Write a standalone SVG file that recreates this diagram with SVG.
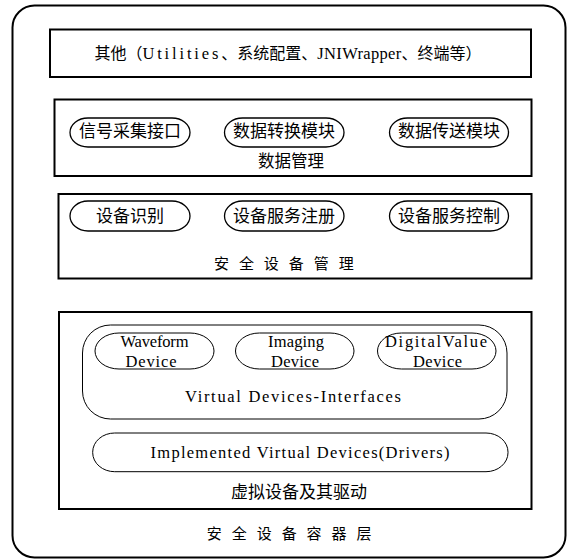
<svg xmlns="http://www.w3.org/2000/svg" width="568" height="560" viewBox="0 0 568 560">
<style>
.frame{fill:#fff;stroke:#000;stroke-width:2}
.box{fill:#fff;stroke:#000;stroke-width:2}
.pill{fill:#fff;stroke:#000;stroke-width:1.3}
.thin{fill:none;stroke:#000;stroke-width:1}
.cjk{font-family:"Noto Sans CJK SC","Noto Sans CJK TC",sans-serif;fill:#000;text-anchor:middle}
.lat{font-family:"Liberation Serif","Noto Sans CJK SC",serif;fill:#000;text-anchor:middle;font-size:16.5px}
</style>
<rect width="568" height="560" fill="#fff"/>
<g id="container">
<rect class="frame" x="12.5" y="5.5" width="553" height="552" rx="22"/>
<text class="cjk" x="290.8" y="538.5" font-size="15" letter-spacing="3.3">安 全 设 备 容 器 层</text>
</g>
<g id="other">
<rect class="box" x="50" y="29.5" width="481" height="47.5"/>
<text class="cjk" x="288" y="58.5" font-size="16">其他（<tspan font-family="Liberation Serif" font-size="16.5" textLength="76" lengthAdjust="spacing">Utilities</tspan>、系统配置、<tspan font-family="Liberation Serif" font-size="16.5" textLength="84" lengthAdjust="spacing">JNIWrapper</tspan>、终端等）</text>
</g>
<g id="data-mgmt">
<rect class="box" x="54.5" y="99.5" width="477" height="76.5"/>
<text class="cjk" x="291" y="167" font-size="16.5">数据管理</text>
</g>
<g id="signal">
<rect class="pill" x="70" y="118" width="120" height="29" rx="18" ry="14.5"/>
<text class="cjk" x="130" y="137" font-size="17">信号采集接口</text>
</g>
<g id="convert">
<rect class="pill" x="224.5" y="118" width="119.5" height="29" rx="18" ry="14.5"/>
<text class="cjk" x="284" y="137" font-size="17">数据转换模块</text>
</g>
<g id="transfer">
<rect class="pill" x="389.5" y="118" width="119" height="29" rx="18" ry="14.5"/>
<text class="cjk" x="449" y="137" font-size="17">数据传送模块</text>
</g>
<g id="device-mgmt">
<rect class="box" x="58.5" y="194" width="473" height="84.5"/>
<text class="cjk" x="285.5" y="268.5" font-size="15" letter-spacing="3.3">安 全 设 备 管 理</text>
</g>
<g id="identify">
<rect class="pill" x="70" y="201" width="120" height="30" rx="18" ry="15"/>
<text class="cjk" x="130" y="221.5" font-size="17">设备识别</text>
</g>
<g id="register">
<rect class="pill" x="224.5" y="201" width="119.5" height="30" rx="18" ry="15"/>
<text class="cjk" x="284" y="221.5" font-size="17">设备服务注册</text>
</g>
<g id="control">
<rect class="pill" x="389.5" y="201" width="119" height="30" rx="18" ry="15"/>
<text class="cjk" x="449" y="221.5" font-size="17">设备服务控制</text>
</g>
<g id="virtual">
<rect class="box" x="59" y="312" width="472.5" height="197"/>
<text class="cjk" x="299" y="497.5" font-size="17">虚拟设备及其驱动</text>
</g>
<g id="interfaces">
<rect class="thin" x="82.5" y="325" width="424.5" height="94" rx="28" ry="28"/>
<text class="lat" x="293" y="402" textLength="216" lengthAdjust="spacing">Virtual Devices-Interfaces</text>
</g>
<g id="waveform">
<rect class="thin" x="95" y="333" width="119" height="36" rx="24" ry="18"/>
<text class="lat" x="154.5" y="346.5" textLength="68" lengthAdjust="spacing">Waveform</text>
<text class="lat" x="151" y="366.5" textLength="51" lengthAdjust="spacing">Device</text>
</g>
<g id="imaging">
<rect class="thin" x="235.5" y="333" width="118.5" height="36" rx="24" ry="18"/>
<text class="lat" x="296" y="346.5" textLength="56" lengthAdjust="spacing">Imaging</text>
<text class="lat" x="295" y="366.5" textLength="48" lengthAdjust="spacing">Device</text>
</g>
<g id="digital">
<rect class="thin" x="377.5" y="333" width="118.5" height="36" rx="24" ry="18"/>
<text class="lat" x="436" y="346.5" textLength="102" lengthAdjust="spacing">DigitalValue</text>
<text class="lat" x="437.5" y="366.5" textLength="49" lengthAdjust="spacing">Device</text>
</g>
<g id="drivers">
<rect class="thin" x="92.7" y="433" width="415.3" height="38.7" rx="22" ry="19"/>
<text class="lat" x="300" y="457.5" textLength="299" lengthAdjust="spacing">Implemented Virtual Devices(Drivers)</text>
</g>
<g id="connectors"></g>
</svg>
